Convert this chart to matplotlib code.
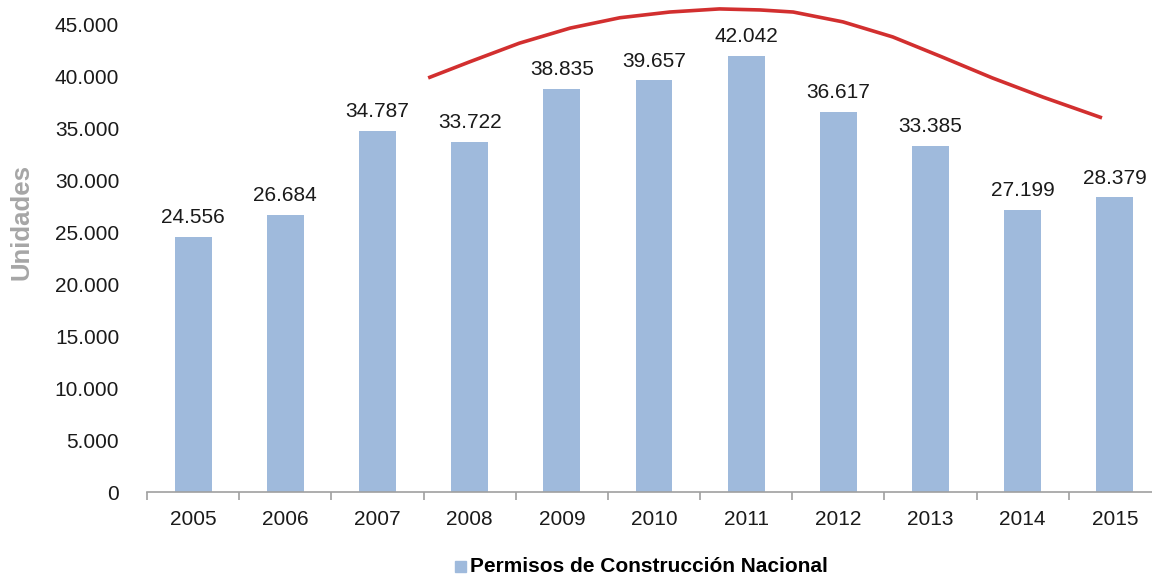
import numpy as np
import matplotlib.pyplot as plt
import matplotlib.patches as patches

plt.rcParams['font.family'] = ['Liberation Sans', 'DejaVu Sans']

years = ["2005", "2006", "2007", "2008", "2009", "2010",
         "2011", "2012", "2013", "2014", "2015"]
permisos = [24556, 26684, 34787, 33722, 38835, 39657,
            42042, 36617, 33385, 27199, 28379]
value_labels = ["24.556", "26.684", "34.787", "33.722", "38.835", "39.657",
                "42.042", "36.617", "33.385", "27.199", "28.379"]
y_ticks = [0, 5000, 10000, 15000, 20000, 25000, 30000, 35000, 40000, 45000]
y_tick_labels = ["0", "5.000", "10.000", "15.000", "20.000", "25.000",
                 "30.000", "35.000", "40.000", "45.000"]

# red trend arc (x in category units)
arc_x = [2.55, 3.00, 3.54, 4.09, 4.63, 5.17, 5.71, 6.15,
         6.51, 7.05, 7.59, 8.13, 8.67, 9.22, 9.86]
arc_y = [39900, 41450, 43250, 44700, 45700, 46250, 46550, 46450,
         46250, 45300, 43850, 41900, 39900, 38050, 36050]

bar_color = "#9fbadc"

fig = plt.figure(figsize=(11.52, 5.74), dpi=100)
# axes runs slightly past the right edge, like the cropped original
ax = fig.add_axes([147 / 1152, 1 - 492 / 574, 1014 / 1152, 467 / 574])

x = np.arange(len(years))
ax.bar(x, permisos, width=0.4, color=bar_color, zorder=2)

for xi, v, lab in zip(x, permisos, value_labels):
    ax.annotate(lab, (xi, v), xytext=(0, 7), textcoords="offset points",
                ha="center", va="bottom", fontsize=15, color="#1a1a1a")

ax.plot(arc_x, arc_y, color="#d22f2f", linewidth=2.6, clip_on=False,
        solid_capstyle="butt", solid_joinstyle="round", zorder=3)

ax.set_xlim(-0.5, len(years) - 0.5)
ax.set_ylim(0, 45000)
ax.set_yticks(y_ticks)
ax.set_yticklabels(y_tick_labels, fontsize=15, color="#1a1a1a")
ax.tick_params(axis="y", length=0, pad=20)

ax.set_xticks(x)
ax.set_xticklabels(years, fontsize=15, color="#1a1a1a")
ax.set_xticks(np.arange(-0.5, len(years) + 0.5, 1), minor=True)
ax.tick_params(axis="x", which="major", length=0, pad=13)
ax.tick_params(axis="x", which="minor", length=6, color="#a0a0a0",
               direction="out", width=1.2)

for side in ["top", "right", "left"]:
    ax.spines[side].set_visible(False)
ax.spines["bottom"].set_color("#a0a0a0")
ax.spines["bottom"].set_linewidth(1.2)

fig.text(22 / 1152, 1 - 222 / 574, "Unidades", rotation=90, ha="center",
         va="center", fontsize=18.5, fontweight="bold", color="#a6a6a6")

# legend
fig.patches.append(patches.Rectangle((455 / 1152, 1 - 572 / 574), 11 / 1152, 11 / 574,
                                     transform=fig.transFigure, color=bar_color))
fig.text(470 / 1152, 1 - 566 / 574, "Permisos de Construcción Nacional",
         ha="left", va="center", fontsize=15, fontweight="bold", color="black")

plt.savefig("out.png", dpi=100)
plt.close()
